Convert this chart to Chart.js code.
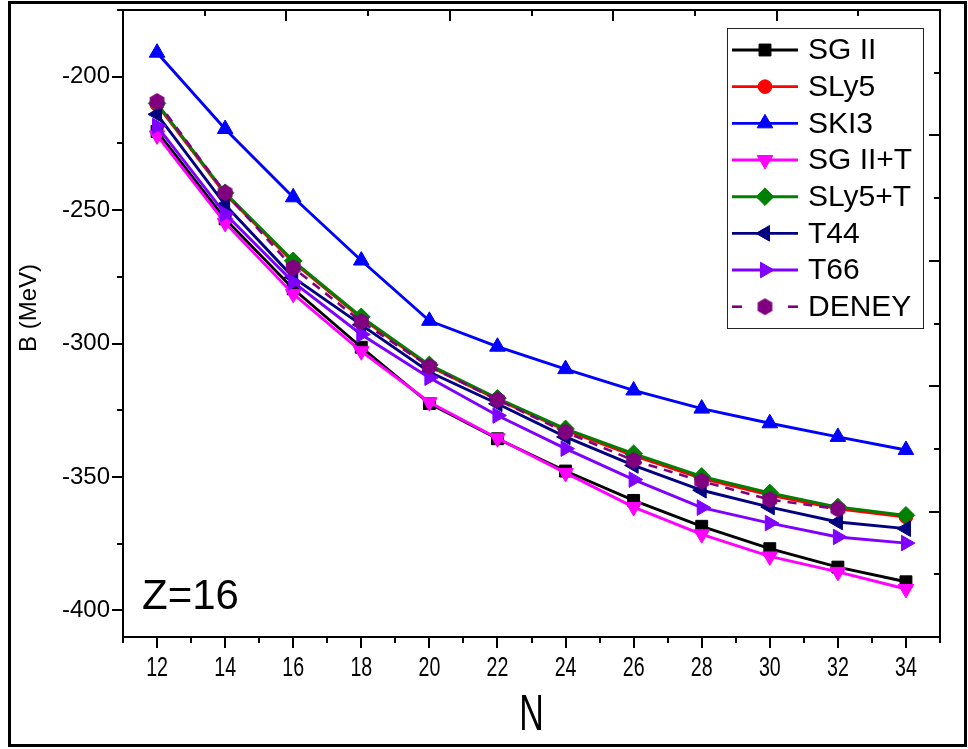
<!DOCTYPE html>
<html>
<head>
<meta charset="utf-8">
<title>B (MeV) vs N, Z=16</title>
<script src="https://cdn.jsdelivr.net/npm/chart.js@4/dist/chart.umd.min.js"></script>
<style>
  html, body { margin: 0; padding: 0; background: #ffffff; }
  #wrap { position: relative; width: 968px; height: 749px; }
  canvas { display: block; }
</style>
</head>
<body>
<div id="wrap"><canvas id="chart" width="968" height="749"></canvas></div>
<script>
// Binding energies of sulfur isotopes (Z=16) for several Skyrme forces
const neutronNumbers = [12, 14, 16, 18, 20, 22, 24, 26, 28, 30, 32, 34];
const bSG2   = [-220.5, -253.3, -279.5, -301.4, -322.5, -335.7, -347.8, -358.8, -368.5, -376.9, -383.8, -389.3];
const bSLy5  = [-210.5, -244.0, -269.5, -290.5, -308.5, -321.0, -332.5, -342.0, -350.5, -356.8, -362.0, -365.0];
const bSKI3  = [-191.0, -219.6, -245.2, -268.9, -291.5, -301.2, -309.6, -317.6, -324.4, -329.9, -335.0, -339.9];
const bSG2T  = [-222.0, -254.8, -281.4, -302.9, -322.0, -335.5, -348.5, -361.3, -371.5, -379.8, -385.6, -392.0];
const bSLy5T = [-210.0, -243.5, -269.0, -290.0, -308.0, -320.5, -332.0, -341.3, -349.8, -356.0, -361.3, -364.4];
const bT44   = [-214.1, -248.0, -275.2, -293.0, -310.7, -322.6, -335.0, -345.7, -355.0, -361.3, -366.9, -369.4];
const bT66   = [-218.5, -251.4, -277.0, -296.6, -312.8, -327.0, -339.4, -351.0, -361.5, -367.3, -372.5, -374.8];
// experimental values (up to N=32)
const bDeney = [-209.3, -243.5, -271.6, -291.8, -308.6, -321.1, -333.2, -343.8, -351.6, -358.5, -362.0];

const seriesNames = ['SG II', 'SLy5', 'SKI3', 'SG II+T', 'SLy5+T', 'T44', 'T66', 'DENEY'];
const xTickLabels = [12, 14, 16, 18, 20, 22, 24, 26, 28, 30, 32, 34];
const yTickLabels = [-400, -350, -300, -250, -200];
const panelLabel = 'Z=16';
const xTitle = 'N';
const yTitle = 'B (MeV)';

const FONT = '"Liberation Sans", Arial, Helvetica, sans-serif';

// hexagon marker used for the experimental points
function makeHexagon(color, r) {
  const c = document.createElement('canvas');
  const s = Math.ceil(r * 2 + 2);
  c.width = s; c.height = s;
  const g = c.getContext('2d');
  g.fillStyle = color;
  g.beginPath();
  for (let i = 0; i < 6; i++) {
    const a = Math.PI / 2 + i * Math.PI / 3;
    const px = s / 2 + r * Math.cos(a);
    const py = s / 2 - r * Math.sin(a);
    if (i === 0) g.moveTo(px, py); else g.lineTo(px, py);
  }
  g.closePath();
  g.fill();
  return c;
}
const hexMarker = makeHexagon('#800080', 8.5);

function pts(values) {
  return values.map((v, i) => ({ x: neutronNumbers[i], y: v }));
}

function series(label, values, color, style, radius, rotation, extra) {
  return Object.assign({
    label: label,
    data: pts(values),
    borderColor: color,
    backgroundColor: color,
    pointBackgroundColor: color,
    pointBorderColor: color,
    pointBorderWidth: 1,
    pointStyle: style,
    pointRadius: radius,
    pointRotation: rotation,
    borderWidth: 2.9,
    tension: 0,
    fill: false
  }, extra || {});
}

const datasets = [
  series(seriesNames[0], bSG2,   '#000000', 'rect',     8.4, 0),
  series(seriesNames[1], bSLy5,  '#ff0000', 'circle',   6.8, 0),
  series(seriesNames[2], bSKI3,  '#0000ff', 'triangle', 9.0, 0),
  series(seriesNames[3], bSG2T,  '#ff00ff', 'triangle', 9.0, 180),
  series(seriesNames[4], bSLy5T, '#008000', 'rectRot',  8.8, 0),
  series(seriesNames[5], bT44,   '#000080', 'triangle', 9.0, 270),
  series(seriesNames[6], bT66,   '#8000ff', 'triangle', 9.0, 90),
  series(seriesNames[7], bDeney, '#800080', hexMarker,  8.5, 0, { borderDash: [9, 7], borderWidth: 2.6 })
];
// later series are painted over earlier ones
datasets.forEach((d, i) => { d.order = datasets.length - 1 - i; });

const TICK_MAJOR = 11;
const TICK_MINOR = 6;

function line(ctx, x1, y1, x2, y2) {
  ctx.beginPath();
  ctx.moveTo(x1, y1);
  ctx.lineTo(x2, y2);
  ctx.stroke();
}

function drawMarker(ctx, ds, x, y) {
  const st = ds.pointStyle;
  if (st instanceof HTMLCanvasElement) {
    ctx.drawImage(st, x - st.width / 2, y - st.height / 2);
    return;
  }
  ctx.save();
  ctx.fillStyle = ds.pointBackgroundColor;
  ctx.strokeStyle = ds.pointBorderColor;
  ctx.lineWidth = ds.pointBorderWidth;
  Chart.helpers.drawPoint(ctx, { pointStyle: st, rotation: ds.pointRotation, radius: ds.pointRadius, borderWidth: ds.pointBorderWidth }, x, y);
  ctx.restore();
}

function noPad(s) {
  s.paddingTop = 0; s.paddingBottom = 0; s.paddingLeft = 0; s.paddingRight = 0;
}

const decor = {
  id: 'decor',
  beforeDraw(chart) {
    const ctx = chart.ctx;
    ctx.save();
    ctx.fillStyle = '#ffffff';
    ctx.fillRect(0, 0, chart.width, chart.height);
    ctx.restore();
  },
  afterDraw(chart) {
    const ctx = chart.ctx;
    const area = chart.chartArea;
    const sx = chart.scales.x, sy = chart.scales.y, sx2 = chart.scales.x2, sy2 = chart.scales.y2;
    ctx.save();
    ctx.strokeStyle = '#000000';
    ctx.lineWidth = 2;
    ctx.lineCap = 'butt';

    // bottom axis: outward ticks, major on even N
    for (let n = 11; n <= 35; n++) {
      const x = Math.round(sx.getPixelForValue(n));
      line(ctx, x, area.bottom, x, area.bottom + (n % 2 === 0 ? TICK_MAJOR : TICK_MINOR));
    }
    // left axis: outward ticks every 25 MeV
    for (let v = -400; v <= -175; v += 25) {
      const y = Math.round(sy.getPixelForValue(v));
      line(ctx, area.left, y, area.left - (v % 50 === 0 ? TICK_MAJOR : TICK_MINOR), y);
    }
    // top and right frame axes: inward ticks
    for (let k = 1; k < 10; k++) {
      const len = k % 2 === 0 ? TICK_MAJOR : TICK_MINOR;
      const x = Math.round(sx2.getPixelForValue(k));
      line(ctx, x, area.top, x, area.top + len);
      const y = Math.round(sy2.getPixelForValue(k));
      line(ctx, area.right, y, area.right - len, y);
    }

    ctx.fillStyle = '#000000';
    // bottom tick labels (narrow lettering)
    ctx.font = '28px ' + FONT;
    ctx.textAlign = 'center';
    ctx.textBaseline = 'middle';
    xTickLabels.forEach(v => {
      const x = sx.getPixelForValue(v);
      ctx.save();
      ctx.translate(x, 668);
      ctx.scale(0.7, 1);
      ctx.fillText(String(v), 0, 0);
      ctx.restore();
    });
    // bottom axis title
    ctx.save();
    ctx.font = '50px ' + FONT;
    ctx.translate((area.left + area.right) / 2, 716);
    ctx.scale(0.68, 1);
    ctx.fillText(xTitle, 0, 0);
    ctx.restore();
    // left axis title
    ctx.save();
    ctx.font = '24px ' + FONT;
    ctx.textAlign = 'center';
    ctx.textBaseline = 'middle';
    ctx.translate(29, 308);
    ctx.rotate(-Math.PI / 2);
    ctx.fillText(yTitle, 0, 0);
    ctx.restore();
    // panel label
    ctx.font = '42px ' + FONT;
    ctx.textAlign = 'left';
    ctx.textBaseline = 'alphabetic';
    ctx.fillText(panelLabel, 142, 609);

    // legend box
    const lx = 727.5, ly = 28.5, lw = 196, lh = 300;
    ctx.fillStyle = '#ffffff';
    ctx.fillRect(lx, ly, lw, lh);
    ctx.strokeStyle = '#222222';
    ctx.lineWidth = 1;
    ctx.strokeRect(lx, ly, lw, lh);
    const rowH = 36.67;
    chart.data.datasets.forEach((ds, i) => {
      const y = 50 + i * rowH;
      ctx.save();
      ctx.strokeStyle = ds.borderColor;
      ctx.lineWidth = ds.borderWidth;
      if (ds.borderDash) {
        line(ctx, 732, y, 742, y);
        line(ctx, 788, y, 798, y);
      } else {
        line(ctx, 732, y, 798, y);
      }
      ctx.restore();
      drawMarker(ctx, ds, 765, y);
      ctx.fillStyle = '#000000';
      ctx.font = '30px ' + FONT;
      ctx.textAlign = 'left';
      ctx.textBaseline = 'middle';
      ctx.fillText(ds.label, 808, y + 1);
    });

    // outer frame of the figure
    ctx.strokeStyle = '#000000';
    ctx.lineWidth = 3;
    ctx.strokeRect(9.5, 2.5, 956, 743);
    ctx.restore();
  }
};

new Chart(document.getElementById('chart'), {
  type: 'line',
  data: { datasets: datasets },
  options: {
    responsive: false,
    animation: false,
    devicePixelRatio: 1,
    layout: { padding: { left: 14, top: 10, right: 28, bottom: 0 } },
    plugins: {
      legend: { display: false },
      tooltip: { enabled: false }
    },
    scales: {
      x: {
        type: 'linear',
        position: 'bottom',
        min: 11,
        max: 35,
        grid: { display: false, drawTicks: false },
        border: { display: true, color: '#000000', width: 2 },
        ticks: { display: false },
        afterBuildTicks: s => { s.ticks = xTickLabels.map(v => ({ value: v })); },
        afterFit: s => { s.height = 112; noPad(s); }
      },
      y: {
        type: 'linear',
        position: 'left',
        min: -410,
        max: -175,
        grid: { display: false, drawTicks: false },
        border: { display: true, color: '#000000', width: 2 },
        ticks: {
          color: '#000000',
          padding: 13,
          font: { family: FONT, size: 24 },
          callback: v => String(v)
        },
        afterBuildTicks: s => { s.ticks = yTickLabels.map(v => ({ value: v })); },
        afterFit: s => { s.width = 109; noPad(s); }
      },
      x2: {
        type: 'linear',
        position: 'top',
        min: 0,
        max: 10,
        grid: { display: false, drawTicks: false },
        border: { display: true, color: '#000000', width: 2 },
        ticks: { display: false },
        afterFit: s => { s.height = 0; noPad(s); }
      },
      y2: {
        type: 'linear',
        position: 'right',
        min: 0,
        max: 10,
        grid: { display: false, drawTicks: false },
        border: { display: true, color: '#000000', width: 2 },
        ticks: { display: false },
        afterFit: s => { s.width = 0; noPad(s); }
      }
    }
  },
  plugins: [decor]
});
</script>
</body>
</html>
